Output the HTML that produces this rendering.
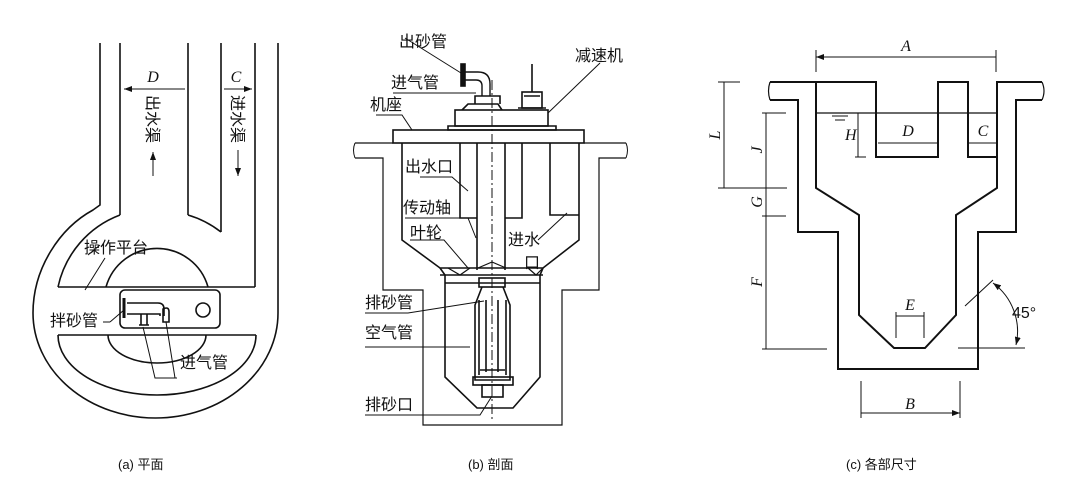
<!DOCTYPE html>
<html><head><meta charset="utf-8"><style>
html,body{margin:0;padding:0;background:#fff;}
svg{display:block;}
text{font-family:"Liberation Sans","Noto Sans CJK SC",sans-serif;fill:#111;}
.it{font-family:"Liberation Serif",serif;font-style:italic;}
</style></head><body>
<svg width="1076" height="485" viewBox="0 0 1076 485" xmlns="http://www.w3.org/2000/svg">
<defs>
<marker id="ar" markerWidth="8" markerHeight="6" refX="8" refY="3" orient="auto-start-reverse" markerUnits="userSpaceOnUse"><path d="M0,0 L8,3 L0,6 Z" fill="#111"/></marker>
</defs>
<g fill="none" stroke="#111" stroke-width="1.6">
<!-- (a) plan -->
<path d="M100,43 V205 L93,210 C60,228 33,268 33,313 A122.5,105 0 0 0 155.5,418 A122.5,105 0 0 0 278,313 V43"/>
<path d="M120,43 V215"/><path d="M188,43 V215"/><path d="M221,43 V232"/><path d="M255,43 V287"/>
<path d="M58,287 A99,99 0 0 1 120,215 M188,215 A99,99 0 0 1 221,232"/>
<path d="M58,287 H255"/>
<path d="M58,335 H256"/>
<path d="M58,335 A99,60 0 0 0 256,335"/>
<path d="M106,287 A53,53 0 0 1 208,287"/>
<path d="M108,335 A49,28 0 0 0 206,335"/>
<rect x="120" y="290" width="100" height="38" rx="5" fill="#fff"/>
<circle cx="203" cy="310" r="7"/>
<path d="M124,298 V318" stroke-width="3"/>
<path d="M127,303 H158 Q164,303 164,309 V316 M127,314 H160 V316"/>
<path d="M141,314 V325 M147,314 V325 M139,325 H149"/>
<path d="M163,309 Q169,306 169,312 V322 H163 Z"/>
<path d="M143,327 L155,378 H177 M166,322 L175,378" stroke-width="1"/>
<path d="M110,322 L124,310 M103,322 H110" stroke-width="1"/>
<path d="M88,255 L100,245 M85,290 L105,258" stroke-width="1"/>
<path d="M124,89 H185 M224,89 H252" stroke-width="1" marker-start="url(#ar)" marker-end="url(#ar)"/>
<path d="M153,176 V152" stroke-width="1" marker-end="url(#ar)"/>
<path d="M238,150 V176" stroke-width="1" marker-end="url(#ar)"/>

<!-- (b) section -->
<path d="M355,143 H393 M355,158 H383 V290 H423 V425 H562 V290 H599 V158 H626 M584,143 H626" stroke-width="1.2"/>
<path d="M355,143 Q352,150 355,158 M626,143 Q629,150 626,158" stroke-width="1"/>
<rect x="393" y="130" width="191" height="13"/>
<path d="M402,143 V240 L440,268 H543 L579,240 V143"/>
<path d="M440,268 L445,275 V377 L477,408 H513 L540,377 V275 L543,268"/>
<path d="M440,275 H543 M445,283 H540"/>
<path d="M460,143 V218 H477 M505,218 H522 V143 M477,143 V270 M505,143 V270 M550,143 V215 H579"/>
<path d="M448,268 L460,275 L470,268 M528,268 L536,275 L543,268 M478,268 L492,262 L506,268" stroke-width="1.2"/>
<rect x="479" y="278" width="26" height="9"/>
<path d="M482,287 L475,305 V380 H510 V305 L503,287 M479,300 V375 M506,300 V375 M486,300 V372 M498,300 V372"/>
<rect x="473" y="377" width="40" height="8"/>
<rect x="482" y="385" width="21" height="12"/>
<path d="M480,370 H505"/>
<rect x="455" y="110" width="93" height="16"/>
<path d="M448,126 H556 V130 H448 Z"/>
<path d="M462,110 L468,104 H498 L502,110 M475,104 V96 H500 V104"/>
<rect x="522" y="92" width="20" height="16"/>
<path d="M518,108 H546 M524,96 H540 M532,64 V92"/>
<path d="M462,72 H478 Q490,72 490,84 V96 M462,80 H476 Q482,80 482,86 V96" stroke-width="1.4"/>
<rect x="461" y="64" width="4" height="22" fill="#111"/>
<path d="M492,80 V420" stroke-width="1" stroke-dasharray="10,3,2,3"/>
<path d="M405,38 L461,73 M393,93 H476 M376,115 H402 L412,130 M548,113 L600,63" stroke-width="1"/>
<path d="M420,177 H452 L468,191 M405,218 H468 L476,238 M410,240 H444 L468,268 M538,240 L567,213 M365,313 H408 L484,301 M365,347 H470 M365,415 H480 L492,396" stroke-width="1"/>

<!-- (c) dimensions -->
<path d="M770,82 H816 V188 L859,215 V315 L894,348 H925 L956,315 V215 L997,188 V82 H1042 M816,82 H876 V157 H938 V82 H968 V157 H997 M770,100 H798 V232 H838 V369 H978 V232 H1016 V100 H1042" stroke-width="2"/>
<path d="M770,82 Q767,91 770,100 M1042,82 Q1046,91 1042,100" stroke-width="1.2"/>
<path d="M816,113 H997" stroke-width="1.2"/>
<path d="M832,116 H848 M835,120 H845" stroke-width="1"/>
<g stroke-width="1">
<path d="M816,50 V72 M996,50 V72 M718,82 H740 M718,188 H787 M762,113 H786 M762,216 H786 M762,349 H827 M855,157 H866 M896,312 V338 M924,312 V338 M861,381 V418 M960,381 V418 M958,348 H1025 M965,306 L993,280"/>
<path d="M816,57 H996 M724,82 V188 M766,113 V188 M766,188 V216 M766,216 V349 M858,113 V157 M878,143 H938 M968,143 H997 M896,316 H924 M861,413 H960" marker-start="url(#ar)" marker-end="url(#ar)"/>
<path d="M993,283 A60,60 0 0 1 1016,345" marker-start="url(#ar)" marker-end="url(#ar)"/>
</g>
</g>
<g font-size="16">
<text x="153" y="82" class="it" text-anchor="middle">D</text>
<text x="236" y="82" class="it" text-anchor="middle">C</text>
<text transform="translate(147,95) rotate(90)">出水渠</text>
<text transform="translate(232,95) rotate(90)">进水渠</text>
<text x="84" y="253">操作平台</text>
<text x="50" y="326">拌砂管</text>
<text x="180" y="368">进气管</text>
<text x="399" y="47">出砂管</text>
<text x="391" y="88">进气管</text>
<text x="370" y="110">机座</text>
<text x="575" y="61">减速机</text>
<text x="405" y="172">出水口</text>
<text x="403" y="213">传动轴</text>
<text x="410" y="238">叶轮</text>
<text x="508" y="245">进水</text>
<text x="524" y="268">口</text>
<text x="365" y="308">排砂管</text>
<text x="365" y="338">空气管</text>
<text x="365" y="410">排砂口</text>
<text x="906" y="51" class="it" text-anchor="middle">A</text>
<text x="845" y="140" class="it">H</text>
<text x="908" y="136" class="it" text-anchor="middle">D</text>
<text x="983" y="136" class="it" text-anchor="middle">C</text>
<text x="910" y="310" class="it" text-anchor="middle">E</text>
<text x="910" y="409" class="it" text-anchor="middle">B</text>
<text x="1012" y="318" font-family="Liberation Serif">45°</text>
<text transform="translate(720,135) rotate(-90)" class="it" text-anchor="middle">L</text>
<text transform="translate(762,150) rotate(-90)" class="it" text-anchor="middle">J</text>
<text transform="translate(762,202) rotate(-90)" class="it" text-anchor="middle">G</text>
<text transform="translate(762,282) rotate(-90)" class="it" text-anchor="middle">F</text>
</g>
<g font-size="13">
<text x="118" y="469">(a) 平面</text>
<text x="468" y="469">(b) 剖面</text>
<text x="846" y="469">(c) 各部尺寸</text>
</g>
</svg>
</body></html>
